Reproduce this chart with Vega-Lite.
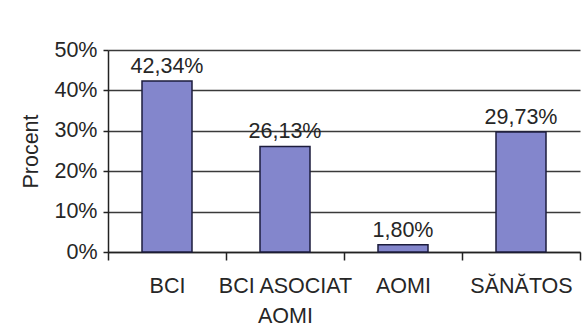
{
  "$schema": "https://vega.github.io/schema/vega-lite/v6.json",
  "autosize": "none",
  "width": 472,
  "height": 202,
  "padding": {"left": 108, "top": 50, "right": 8, "bottom": 79},
  "background": "white",
  "config": {
    "view": {"stroke": null},
    "font": "Liberation Sans",
    "axis": {"labelFont": "Liberation Sans", "titleFont": "Liberation Sans"}
  },
  "data": {
    "values": [
      {"categorie": "BCI", "procent": 0.4234, "eticheta": "42,34%"},
      {"categorie": "BCI ASOCIAT AOMI", "procent": 0.2613, "eticheta": "26,13%"},
      {"categorie": "AOMI", "procent": 0.018, "eticheta": "1,80%"},
      {"categorie": "SĂNĂTOS", "procent": 0.2973, "eticheta": "29,73%"}
    ]
  },
  "encoding": {
    "x": {
      "field": "categorie",
      "type": "nominal",
      "sort": null,
      "scale": {"paddingInner": 0, "paddingOuter": 0},
      "axis": {
        "title": null,
        "labelAngle": 0,
        "labelFontSize": 21.5,
        "labelColor": "#262626",
        "labelPadding": 15,
        "labelLineHeight": 30,
        "labelBaseline": "top",
        "tickBand": "extent",
        "tickSize": 8,
        "tickColor": "#222",
        "tickWidth": 1.5,
        "domainColor": "#222",
        "domainWidth": 1.5,
        "labelExpr": "datum.value == 'BCI ASOCIAT AOMI' ? ['BCI ASOCIAT', 'AOMI'] : datum.value"
      }
    },
    "y": {
      "field": "procent",
      "type": "quantitative",
      "scale": {"domain": [0, 0.5], "nice": false},
      "axis": {
        "title": "Procent",
        "titleFontSize": 21.5,
        "titleFontWeight": "normal",
        "titleColor": "#262626",
        "titlePadding": 11,
        "values": [0, 0.1, 0.2, 0.3, 0.4, 0.5],
        "format": ".0%",
        "labelFontSize": 21.5,
        "labelColor": "#262626",
        "labelPadding": 6,
        "tickSize": 5,
        "tickColor": "#222",
        "tickWidth": 1.5,
        "domainColor": "#222",
        "domainWidth": 1.5,
        "grid": true,
        "gridColor": "#3a3a3a",
        "gridWidth": 1.3
      }
    }
  },
  "layer": [
    {
      "mark": {"type": "bar", "size": 50, "fill": "#8386cc", "stroke": "#1c1c3c", "strokeWidth": 1.5}
    },
    {
      "mark": {"type": "text", "baseline": "alphabetic", "dy": -8, "fontSize": 21.5, "color": "#262626"},
      "encoding": {"text": {"field": "eticheta"}}
    }
  ]
}
